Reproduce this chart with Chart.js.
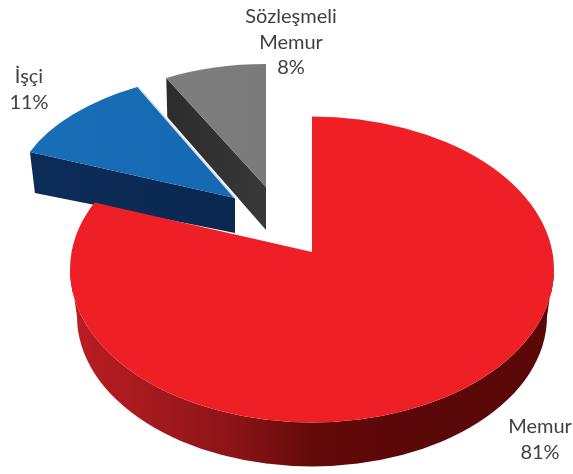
<!DOCTYPE html>
<html><head><meta charset="utf-8">
<style>html,body{margin:0;padding:0;background:#fff}#w{width:573px;height:474px;position:relative}</style>
<script src="https://cdn.jsdelivr.net/npm/chart.js@4"></script>
</head><body><div id="w"><canvas id="c"></canvas></div>
<script>
const categories = ['Memur', 'İşçi', 'Sözleşmeli Memur'];
const shares = [81, 11, 8];
const labelLines = [['Memur', '81%'], ['İşçi', '11%'], ['Sözleşmeli', 'Memur', '8%']];

// projection of each exploded slice (ellipse of its top face, and where its tip lands)
const ellipseCx = [312, 254, 266];
const ellipseCy = [269.5, 199, 177];
const ellipseRx = [242, 241, 207];
const ellipseRy = [153, 128, 113];
const tipX = [312, 235, 266];
const tipY = [252, 198, 187];
const endSkewDeg = [4.4, 0, 0];
const wallDepthOuter = [44, 41, 39];
const wallDepthTip = [0, 35, 43];
const wallInset = [7, 5, 1];
const topColors = [['#ee2025', '#ee2025'], ['#1a6fb9', '#1366b0'], ['#808080', '#7a7a7a']];
const wallColors = [['#bc1c22', '#a41a1e', '#8c1417', '#640a0a', '#5c0808', '#5a0808', '#5a0707'], ['#0c2c58', '#0a2850'], ['#2c2c2c', '#383838']];
const edgeColors = [null, '#c9dff0', null];
const labelX = [540, 29, 291];
const labelY = [427, 77, 17];
const labelLead = 25.5;
const labelFont = '20px Lato, "Open Sans", sans-serif';
const labelColor = '#404040';

function hGrad(ctx, x0, x1, stops) {
  const g = ctx.createLinearGradient(x0, 0, x1, 0);
  stops.forEach((s, i) => g.addColorStop(i / (stops.length - 1), s));
  return g;
}

const pie3d = {
  id: 'pie3d',
  beforeDatasetsDraw(chart) {
    const ctx = chart.ctx;
    const arcs = chart.getDatasetMeta(0).data;
    ctx.save();
    [2, 1, 0].forEach(i => {
      const a = arcs[i].getProps(['startAngle', 'endAngle'], true);
      const cx = ellipseCx[i], cy = ellipseCy[i], rx = ellipseRx[i], ry = ellipseRy[i];
      const start = a.startAngle;
      const end = a.endAngle + endSkewDeg[i] * Math.PI / 180;
      ctx.lineJoin = 'round';
      if (i === 0) {
        // rounded front wall
        const d = wallDepthOuter[i], rx2 = rx - wallInset[i], ry2 = ry - 3;
        ctx.beginPath();
        ctx.ellipse(cx, cy, rx, ry, 0, 0, Math.PI, false);
        ctx.ellipse(cx, cy + d + 3, rx2, ry2, 0, Math.PI, 0, true);
        ctx.closePath();
        ctx.fillStyle = hGrad(ctx, cx - rx, cx + rx, wallColors[i]);
        ctx.fill();
      } else {
        // flat cut wall
        const ox = cx + rx * Math.cos(start), oy = cy + ry * Math.sin(start);
        ctx.beginPath();
        ctx.moveTo(ox, oy);
        ctx.lineTo(tipX[i], tipY[i]);
        ctx.lineTo(tipX[i], tipY[i] + wallDepthTip[i]);
        ctx.lineTo(ox + wallInset[i], oy + wallDepthOuter[i]);
        ctx.closePath();
        ctx.fillStyle = hGrad(ctx, ox, tipX[i], wallColors[i]);
        ctx.fill();
      }
      // top face
      ctx.beginPath();
      ctx.moveTo(tipX[i], tipY[i]);
      ctx.ellipse(cx, cy, rx, ry, 0, start, end, false);
      ctx.closePath();
      ctx.fillStyle = hGrad(ctx, cx - rx, cx + rx * 0.2, topColors[i]);
      ctx.fill();
      if (edgeColors[i]) {
        ctx.beginPath();
        ctx.moveTo(cx + rx * Math.cos(end), cy + ry * Math.sin(end));
        ctx.lineTo(tipX[i], tipY[i]);
        ctx.strokeStyle = edgeColors[i];
        ctx.lineWidth = 1.5;
        ctx.stroke();
      }
    });
    ctx.restore();
    return false;
  },
  afterDraw(chart) {
    const ctx = chart.ctx;
    ctx.save();
    ctx.font = labelFont;
    ctx.fillStyle = labelColor;
    ctx.textAlign = 'center';
    ctx.textBaseline = 'middle';
    labelLines.forEach((lines, i) => lines.forEach((t, j) => ctx.fillText(t, labelX[i], labelY[i] + j * labelLead)));
    ctx.restore();
  }
};

new Chart(document.getElementById('c'), {
  type: 'pie',
  data: { labels: categories, datasets: [{ data: shares, backgroundColor: topColors.map(c => c[0]), borderWidth: 0 }] },
  options: {
    responsive: true, maintainAspectRatio: false, animation: false,
    plugins: { legend: { display: false }, tooltip: { enabled: false } }
  },
  plugins: [pie3d]
});
</script></body></html>
